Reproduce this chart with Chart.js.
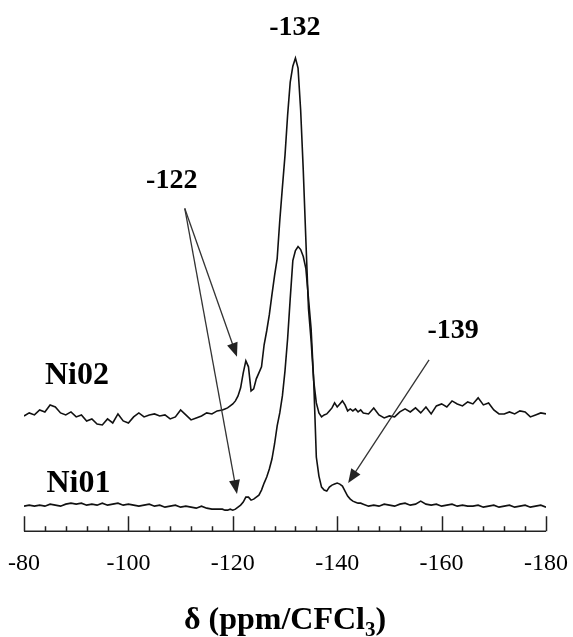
<!DOCTYPE html>
<html>
<head>
<meta charset="utf-8">
<script src="https://cdn.jsdelivr.net/npm/chart.js@4.4.0/dist/chart.umd.min.js"></script>
<style>
  html, body { margin: 0; padding: 0; background: #fff; }
  #chart-box { width: 573px; height: 637px; }
</style>
</head>
<body>
<div id="chart-box"><canvas id="nmr" width="573" height="637"></canvas></div>
<script>
'use strict';

// ***** DATA *****
const ppm = [
  -80, -81, -82, -83, -84, -85, -86, -87, -88, -89, -90, -91, -92, -93, -94, -95, -96, -97, -98, -99,
  -100, -101, -102, -103, -104, -105, -106, -107, -108, -109, -110, -111, -112, -113, -114, -115, -116, -117,
  -118, -118.5, -119, -119.5, -120, -120.5, -121, -121.5, -122, -122.5, -123, -123.5, -124, -124.5,
  -125, -125.5, -126, -126.5, -127, -127.5, -128, -128.5, -129, -129.5, -130, -130.5, -131, -131.5,
  -132, -132.5, -133, -133.5, -134, -134.5, -135, -135.5, -136, -136.5, -137, -137.5, -138, -138.5,
  -139, -139.5, -140, -140.5, -141, -141.5, -142, -142.5, -143, -143.5, -144, -144.5, -145,
  -146, -147, -148, -149, -150, -151, -152, -153, -154, -155, -156, -157, -158, -159, -160, -161, -162,
  -163, -164, -165, -166, -167, -168, -169, -170, -171, -172, -173, -174, -175, -176, -177, -178, -179, -180
];

const ni02 = [
  115, 118, 116, 121, 119, 126, 124, 118, 116, 119, 114, 116, 110, 112, 107, 106, 112, 108, 117, 110,
  108, 114, 118, 114, 116, 117, 115, 116, 112, 114, 121, 116, 111, 113, 115, 118, 117, 120,
  121, 122, 123, 125, 127, 130, 135, 143, 158, 170, 164, 140, 142, 152,
  158, 164, 186, 200, 216, 236, 255, 272, 310, 343, 375, 415, 448, 464,
  472, 462, 420, 360, 290, 222, 190, 150, 128, 118, 114, 116, 117, 120,
  123, 128, 124, 127, 130, 126, 120, 122, 120, 122, 119, 121, 118,
  117, 123, 116, 113, 115, 114, 119, 122, 119, 123, 118, 124, 117, 125, 127, 124, 130,
  127, 125, 129, 127, 133, 126, 128, 121, 117, 117, 119, 117, 120, 119, 114, 116, 118, 117
];

const ni01 = [
  25, 26, 25, 26, 25, 27, 26, 25, 27, 28, 27, 28, 26, 27, 26, 28, 26, 27, 28, 26,
  27, 26, 25, 26, 27, 25, 26, 24, 25, 26, 24, 25, 24, 23, 25, 23, 22, 22,
  22, 21, 21, 22, 21, 22, 24, 26, 29, 34, 34, 31, 32, 34,
  36, 41, 48, 54, 62, 72, 87, 105, 118, 135, 160, 192, 232, 270,
  280, 284, 281, 274, 262, 232, 202, 150, 74, 55, 44, 41, 40, 44,
  46, 47, 48, 47, 45, 40, 35, 32, 30, 29, 28, 28, 27,
  25, 26, 25, 27, 26, 25, 27, 28, 26, 27, 30, 27, 26, 27, 25, 26, 27,
  25, 26, 25, 25, 26, 24, 25, 26, 24, 25, 26, 24, 25, 26, 24, 25, 26, 24
];

const seriesNames = ['Ni02', 'Ni01'];
const xTicks = [-80, -100, -120, -140, -160, -180];
const xMinorStep = 4;

// labels & arrows in data units (ppm, intensity)
const peakLabels = [
  { text: '-132', x: -131.9, y: 502 },
  { text: '-122', x: -108.3, y: 350 },
  { text: '-139', x: -162.2, y: 200 }
];
const seriesLabels = [
  { text: 'Ni02', x: -84.0, y: 155 },
  { text: 'Ni01', x: -84.3, y: 47 }
];
const arrows = [
  { from: [-110.8, 322], to: [-120.8, 174] },
  { from: [-110.8, 322], to: [-120.8, 37] },
  { from: [-157.6, 171], to: [-142.1, 48] }
];

// **** HELPERS ****
function toPoints(values){
  return values.map((v, i) => ({ x: ppm[i], y: v }));
}

function drawArrow(ctx, x1, y1, x2, y2){
  const ang = Math.atan2(y2 - y1, x2 - x1);
  const headLen = 14;
  const headW = 5.5;
  const cos = Math.cos(ang);
  const sin = Math.sin(ang);
  ctx.beginPath();
  ctx.moveTo(x1, y1);
  ctx.lineTo(x2 - headLen * 0.7 * cos, y2 - headLen * 0.7 * sin);
  ctx.stroke();
  ctx.beginPath();
  ctx.moveTo(x2, y2);
  ctx.lineTo(x2 - headLen * cos + headW * sin, y2 - headLen * sin - headW * cos);
  ctx.lineTo(x2 - headLen * cos - headW * sin, y2 - headLen * sin + headW * cos);
  ctx.closePath();
  ctx.fill();
}

// axis line, inward ticks, annotations and the axis title
const decorPlugin = {
  id: 'decor',
  afterDraw(chart){
    const ctx = chart.ctx;
    const xs = chart.scales.x;
    const ys = chart.scales.y;
    const area = chart.chartArea;
    const y0 = area.bottom;

    ctx.save();
    ctx.strokeStyle = '#222';
    ctx.lineWidth = 1.5;
    ctx.beginPath();
    ctx.moveTo(xs.getPixelForValue(xTicks[0]), y0);
    ctx.lineTo(xs.getPixelForValue(xTicks[xTicks.length - 1]), y0);
    for (let v = xTicks[0]; v >= xTicks[xTicks.length - 1]; v -= xMinorStep) {
      const px = Math.round(xs.getPixelForValue(v)) + 0.5;
      const len = xTicks.includes(v) ? 15 : 5;
      ctx.moveTo(px, y0);
      ctx.lineTo(px, y0 - len);
    }
    ctx.stroke();

    // arrows
    ctx.strokeStyle = '#333';
    ctx.fillStyle = '#222';
    ctx.lineWidth = 1.3;
    arrows.forEach(a => {
      drawArrow(ctx,
        xs.getPixelForValue(a.from[0]), ys.getPixelForValue(a.from[1]),
        xs.getPixelForValue(a.to[0]), ys.getPixelForValue(a.to[1]));
    });

    // text
    ctx.fillStyle = '#000';
    ctx.textBaseline = 'middle';
    ctx.textAlign = 'center';
    ctx.font = 'bold 28px "Liberation Serif"';
    peakLabels.forEach(l => {
      ctx.fillText(l.text, xs.getPixelForValue(l.x), ys.getPixelForValue(l.y));
    });
    ctx.textAlign = 'left';
    ctx.font = 'bold 32px "Liberation Serif"';
    seriesLabels.forEach(l => {
      ctx.fillText(l.text, xs.getPixelForValue(l.x), ys.getPixelForValue(l.y));
    });

    // axis title with subscript
    ctx.textBaseline = 'alphabetic';
    const big = 'bold 32px "Liberation Serif"';
    const small = 'bold 21px "Liberation Serif"';
    const parts = [['δ (ppm/CFCl', big, 0], ['3', small, 7], [')', big, 0]];
    let total = 0;
    parts.forEach(p => { ctx.font = p[1]; total += ctx.measureText(p[0]).width; });
    let tx = (area.left + area.right) / 2 - total / 2;
    const ty = 629;
    parts.forEach(p => {
      ctx.font = p[1];
      ctx.fillText(p[0], tx, ty + p[2]);
      tx += ctx.measureText(p[0]).width;
    });
    ctx.restore();
  }
};

// **** CHART ****
Chart.defaults.font.family = '"Liberation Serif", "Times New Roman", serif';
Chart.defaults.color = '#000';

new Chart(document.getElementById('nmr'), {
  type: 'line',
  data: {
    datasets: [
      { label: seriesNames[0], data: toPoints(ni02) },
      { label: seriesNames[1], data: toPoints(ni01) }
    ]
  },
  options: {
    responsive: false,
    animation: false,
    devicePixelRatio: 1,
    layout: { padding: { left: 24, right: 27, top: 10, bottom: 41 } },
    elements: {
      line: { borderColor: '#111', borderWidth: 1.6, tension: 0, fill: false },
      point: { radius: 0 }
    },
    plugins: {
      legend: { display: false },
      tooltip: { enabled: false }
    },
    scales: {
      x: {
        type: 'linear',
        min: -180,
        max: -80,
        reverse: true,
        grid: { display: false, drawTicks: false },
        border: { display: false },
        afterBuildTicks: axis => { axis.ticks = xTicks.map(v => ({ value: v })); },
        afterFit: axis => { axis.paddingLeft = 0; axis.paddingRight = 0; },
        ticks: {
          font: { size: 24 },
          padding: 18,
          maxRotation: 0,
          callback: v => String(v)
        }
      },
      y: {
        display: false,
        min: 0,
        max: 520
      }
    }
  },
  plugins: [decorPlugin]
});
</script>
</body>
</html>
